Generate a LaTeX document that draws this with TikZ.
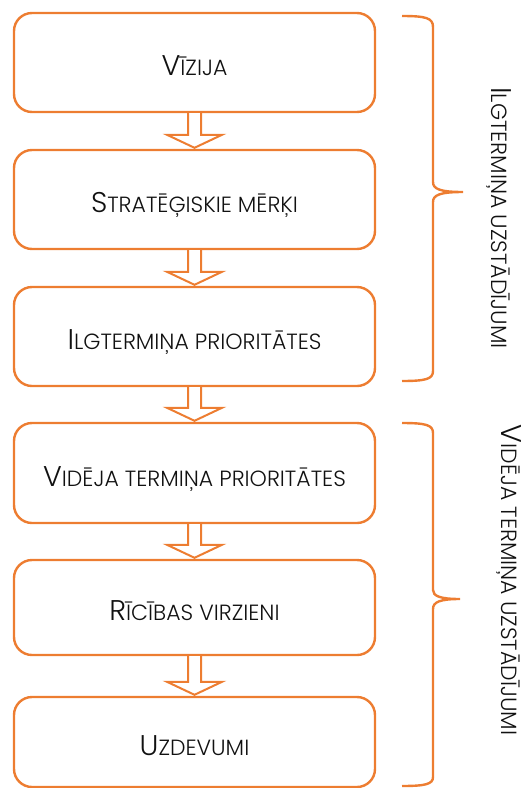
\documentclass[tikz,border=0pt]{standalone}
\usepackage{fontspec}
\IfFontExistsTF{Poppins Light}{\setmainfont{Poppins Light}}{\setmainfont{Poppins}}
\usetikzlibrary{calc}
\definecolor{org}{HTML}{ED7D31}
\definecolor{txt}{HTML}{111111}
\newcommand\SCx[2]{{\fontsize{28.5}{30}\selectfont #1}{\fontsize{22}{26}\selectfont #2}}
\newcommand\blockarr[2]{%
 \draw[arr] ($(#1.south)+(-6.5,0)$) -- ($(#2.north)+(-6.5,-14)$) -- ($(#2.north)+(-27.5,-14)$) -- ($(#2.north)+(0,-1)$) -- ($(#2.north)+(27.5,-14)$) -- ($(#2.north)+(6.5,-14)$) -- ($(#1.south)+(6.5,0)$);}
\tikzset{
 box/.style={draw=org, line width=2.4pt, rounded corners=18pt, minimum width=361pt, text=txt, inner sep=0pt, text height=26pt, text depth=0pt, align=center},
 arr/.style={draw=org, fill=white, line width=2pt, line join=miter},
 brace/.style={draw=org, line width=2.4pt},
 vlabel/.style={rotate=-90, anchor=base, text=txt, inner sep=0pt}
}
\begin{document}
\begin{tikzpicture}[x=1pt,y=-1pt]
\useasboundingbox (0,0) rectangle (522,788);
\node[box, minimum height=99pt] (b1) at (194.5,62.5) {\SCx{V}{ĪZIJA}};
\node[box, minimum height=99pt] (b2) at (194.5,199.5) {\SCx{S}{TRATĒĢISKIE MĒRĶI}};
\node[box, minimum height=99pt] (b3) at (194.5,336.5) {\SCx{I}{LGTERMIŅA PRIORITĀTES}};
\node[box, minimum height=100pt] (b4) at (194.5,473) {\SCx{V}{IDĒJA TERMIŅA PRIORITĀTES}};
\node[box, minimum height=95pt] (b5) at (194.5,607.5) {\SCx{R}{ĪCĪBAS VIRZIENI}};
\node[box, minimum height=90pt] (b6) at (194.5,742) {\SCx{U}{ZDEVUMI}};
\blockarr{b1}{b2}
\blockarr{b2}{b3}
\blockarr{b3}{b4}
\blockarr{b4}{b5}
\blockarr{b5}{b6}
% braces
\draw[brace] (402,16) .. controls (426,16) and (433,18) .. (433,27) -- (433,182) .. controls (433,189) and (440,192) .. (463,192) .. controls (440,192) and (433,195) .. (433,202) -- (433,371) .. controls (433,379) and (426,381) .. (402,381);
\draw[brace] (402,423) .. controls (426,423) and (433,425) .. (433,433) -- (433,590) .. controls (433,596) and (440,599) .. (460,599) .. controls (440,599) and (433,602) .. (433,609) -- (433,777) .. controls (433,784) and (426,786) .. (402,786);
\node[vlabel] (t1) at (491,218) {\SCx{I}{LGTERMIŅA UZSTĀDĪJUMI}};
\node[vlabel] (t2) at (501,580) {\SCx{V}{IDĒJA TERMIŅA UZSTĀDĪJUMI}};
\end{tikzpicture}
\end{document}
